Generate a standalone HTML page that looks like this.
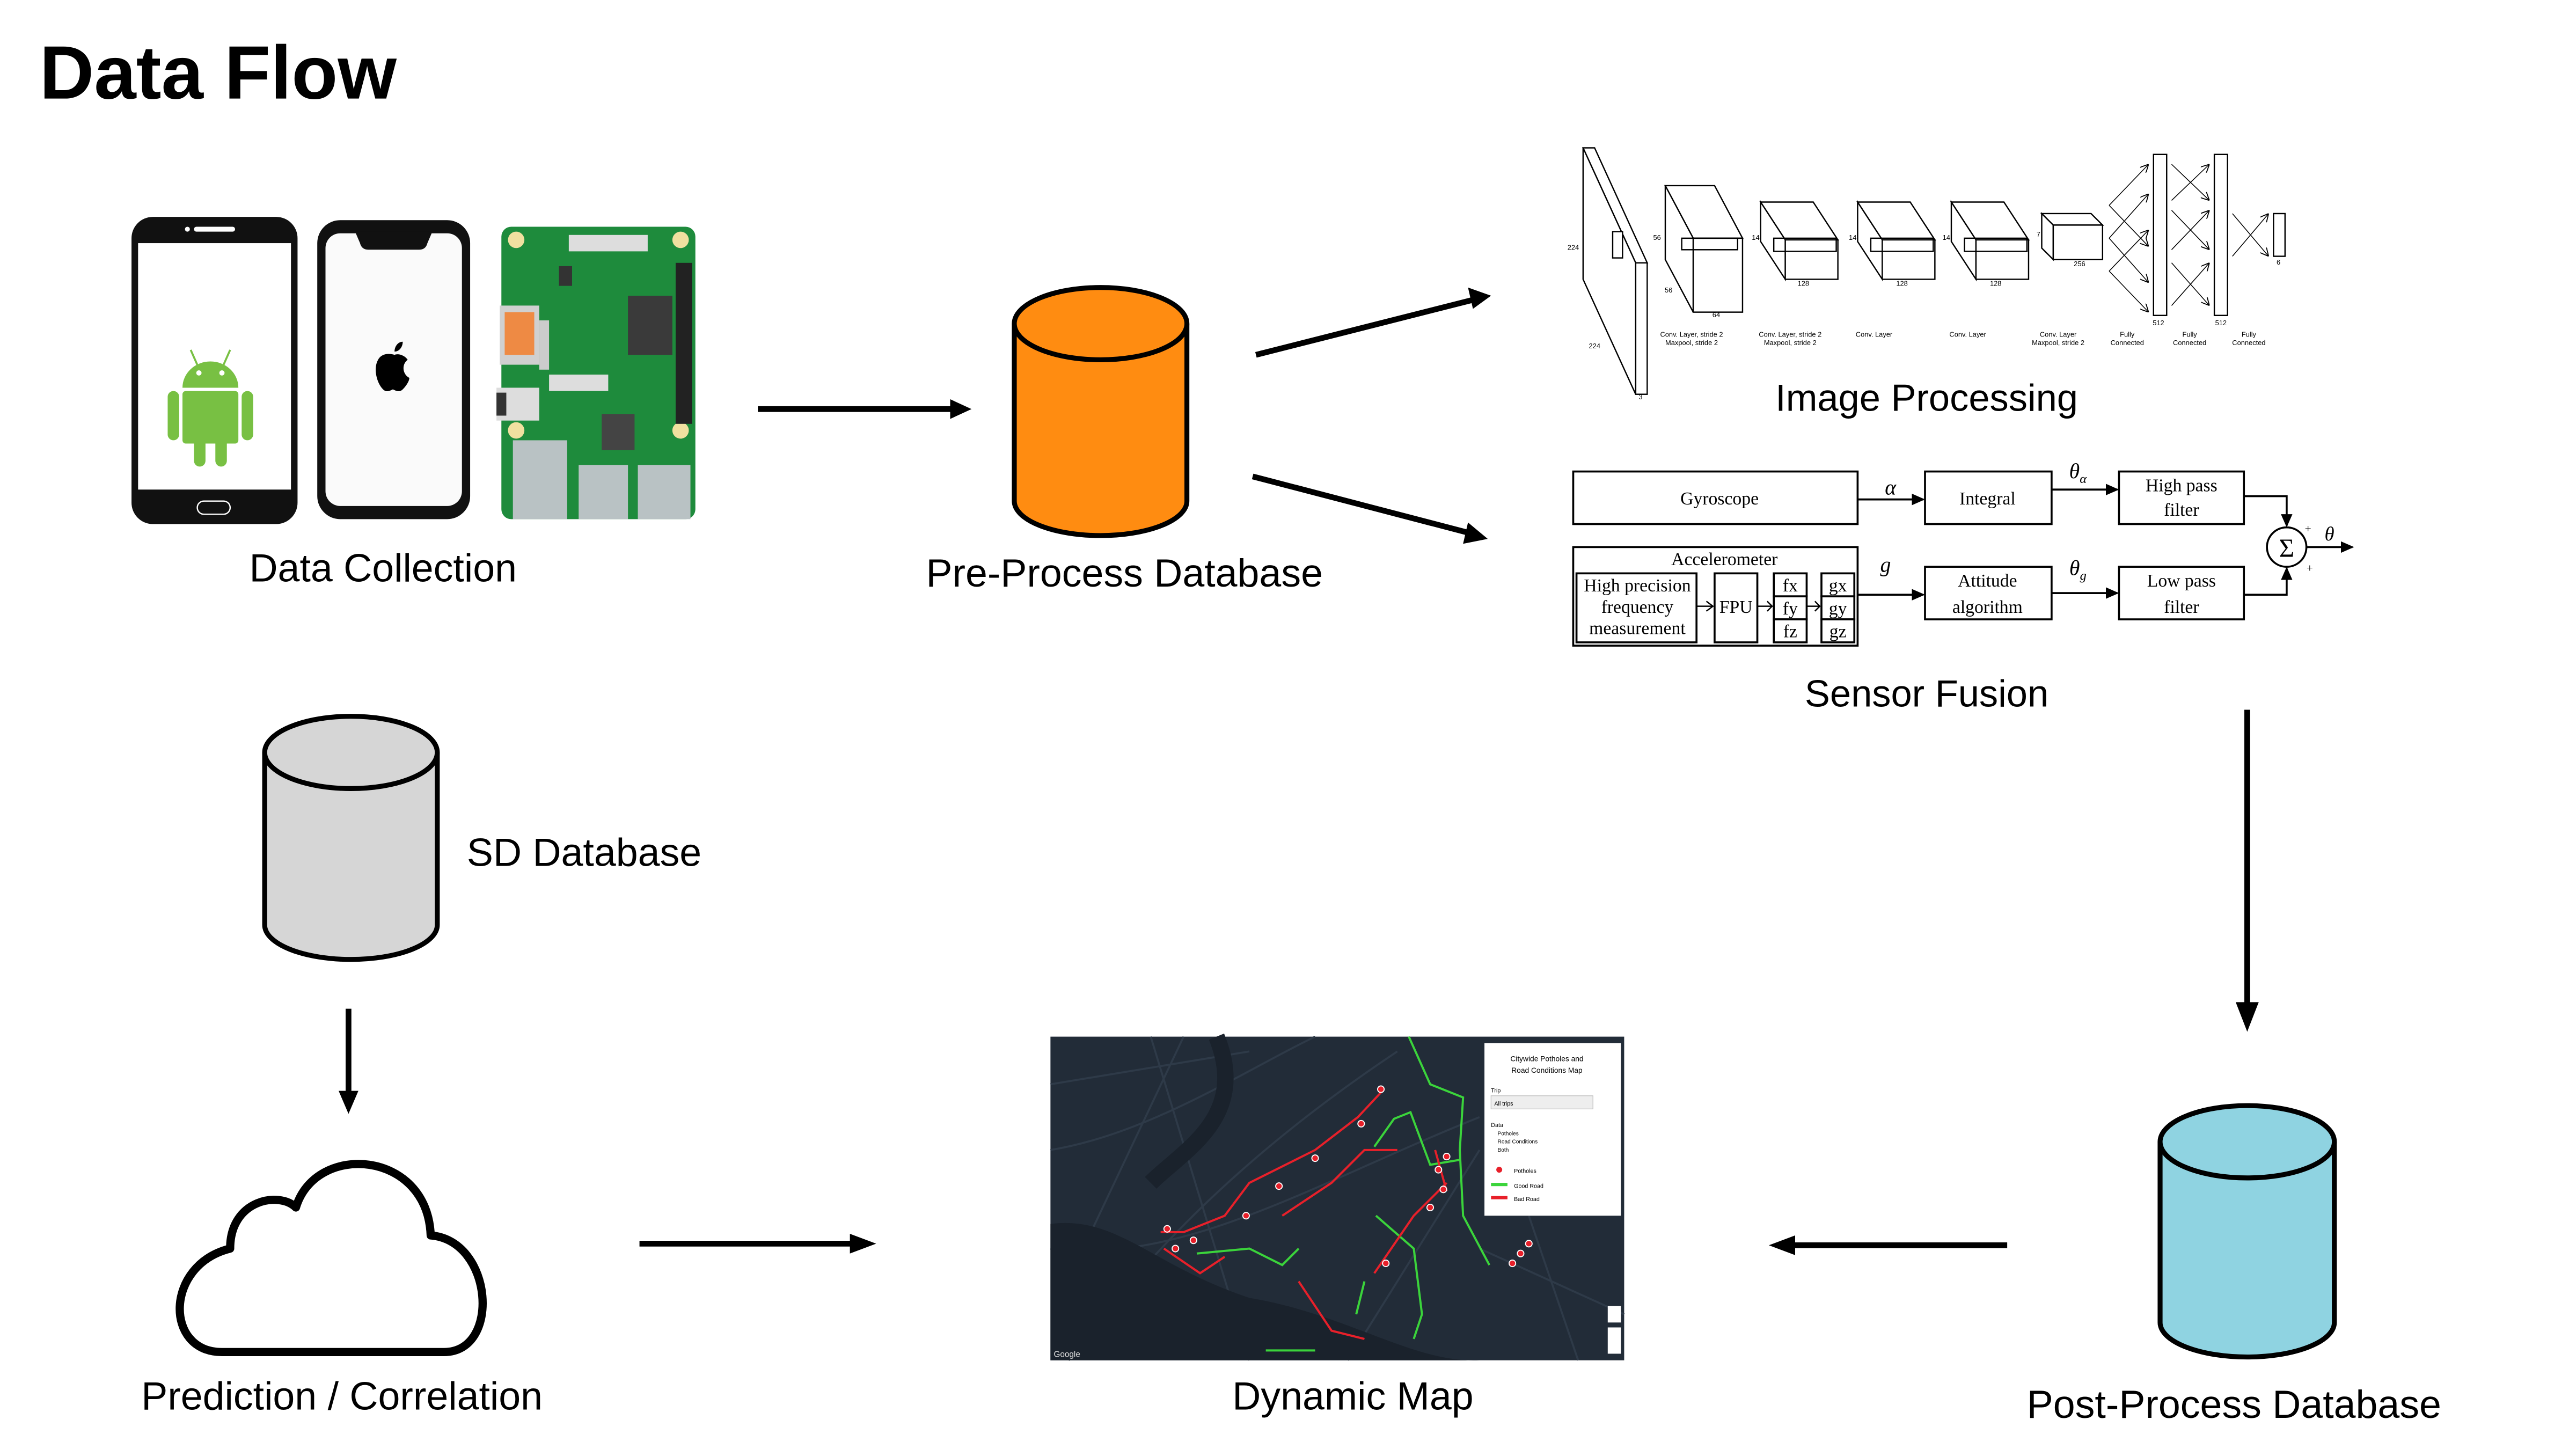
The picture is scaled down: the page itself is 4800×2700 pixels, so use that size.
<!DOCTYPE html>
<html><head><meta charset="utf-8"><style>
html,body{margin:0;padding:0;background:#fff;}
svg{display:block;}
</style></head><body>
<svg width="4800" height="2700" viewBox="0 0 1567 882" preserveAspectRatio="none" xmlns="http://www.w3.org/2000/svg" font-family="Liberation Sans, sans-serif">
<defs>
<marker id="sa" markerWidth="8" markerHeight="8" refX="7" refY="4" orient="auto" markerUnits="userSpaceOnUse"><path d="M0,0.5 L8,4 L0,7.5 z" fill="#000"/></marker>
<marker id="ta" markerWidth="5" markerHeight="5" refX="5" refY="2.5" orient="auto" markerUnits="userSpaceOnUse"><path d="M0,0 L5,2.5 L0,5" fill="none" stroke="#000" stroke-width="0.6"/></marker>
</defs>

<text x="24" y="60" font-size="46" font-weight="bold" fill="#000">Data Flow</text>

<!-- Android phone -->
<rect x="80" y="132" width="101" height="187" rx="13" fill="#111"/>
<rect x="84" y="148" width="93" height="150" fill="#fff"/>
<rect x="118" y="138" width="25" height="3" rx="1.5" fill="#fff"/>
<circle cx="114" cy="139.5" r="1.5" fill="#fff"/>
<rect x="120" y="305" width="20" height="8" rx="4" fill="none" stroke="#fff" stroke-width="0.8"/>
<path d="M111,236 A17,16 0 0 1 145,236 Z" fill="#78c043"/>
<rect x="111" y="238" width="34" height="32" rx="2" fill="#78c043"/>
<rect x="102" y="238" width="7" height="30" rx="3.5" fill="#78c043"/>
<rect x="147" y="238" width="7" height="30" rx="3.5" fill="#78c043"/>
<rect x="118" y="266" width="7" height="18" rx="3.5" fill="#78c043"/>
<rect x="131" y="266" width="7" height="18" rx="3.5" fill="#78c043"/>
<line x1="116" y1="213" x2="120" y2="222" stroke="#78c043" stroke-width="1.2"/>
<line x1="140" y1="213" x2="136" y2="222" stroke="#78c043" stroke-width="1.2"/>
<circle cx="121" cy="227" r="1.6" fill="#fff"/><circle cx="135" cy="227" r="1.6" fill="#fff"/>

<!-- iPhone -->
<rect x="193" y="134" width="93" height="182" rx="14" fill="#111"/>
<rect x="198" y="142" width="83" height="166" rx="9" fill="#fafafa"/>
<path d="M216,141 L219,148 Q220,152 224,152 L255,152 Q259,152 260,148 L263,141 Z" fill="#111"/>
<path d="M240,216 c-3,-1 -8,-1 -10,3 c-3,5 -1,14 3,18 c2,2 4,1 6,0 c2,1 4,2 6,0 c2,-2 4,-5 4,-7 c-4,-2 -5,-8 -1,-11 c-2,-3 -6,-4 -8,-3 z M240,214 c0,-3 2,-6 5,-6 c0,3 -2,6 -5,6z" fill="#000"/>

<!-- Raspberry Pi -->
<rect x="305" y="138" width="118" height="178" rx="6" fill="#1e8b3c"/>
<circle cx="314" cy="146" r="5" fill="#f0e0a0"/><circle cx="414" cy="146" r="5" fill="#f0e0a0"/>
<circle cx="314" cy="262" r="5" fill="#f0e0a0"/><circle cx="414" cy="262" r="5" fill="#f0e0a0"/>
<rect x="411" y="160" width="10" height="98" fill="#222"/>
<rect x="346" y="143" width="48" height="10" fill="#ddd"/>
<rect x="382" y="180" width="27" height="36" fill="#3a3a3a"/>
<rect x="304" y="186" width="24" height="36" fill="#d0d0d0"/>
<rect x="307" y="190" width="18" height="26" fill="#ee8a44"/>
<rect x="334" y="228" width="36" height="10" fill="#ddd"/>
<rect x="302" y="236" width="26" height="20" fill="#ddd"/>
<rect x="302" y="239" width="6" height="14" fill="#333"/>
<rect x="366" y="252" width="20" height="22" fill="#444"/>
<rect x="312" y="268" width="33" height="48" fill="#b9c2c4"/>
<rect x="352" y="283" width="30" height="33" fill="#b9c2c4"/>
<rect x="388" y="283" width="32" height="33" fill="#b9c2c4"/>
<rect x="340" y="162" width="8" height="12" fill="#333"/><rect x="328" y="195" width="6" height="30" fill="#ccc"/>

<text x="233" y="354" font-size="24" text-anchor="middle" fill="#000">Data Collection</text>

<line x1="461" y1="249" x2="582" y2="249" stroke="#000" stroke-width="3.5"/>
<path d="M578,243 L591,249 L578,255 Z" fill="#000"/>

<path d="M617,197 L617,305 A52.5,21 0 0 0 722,305 L722,197" fill="#ff8c11" stroke="#000" stroke-width="3"/>
<ellipse cx="669.5" cy="197" rx="52.5" ry="22" fill="#ff8c11" stroke="#000" stroke-width="3"/>
<text x="684" y="357" font-size="24" text-anchor="middle" fill="#000">Pre-Process Database</text>

<line x1="764" y1="216" x2="898" y2="182" stroke="#000" stroke-width="3.5"/>
<path d="M893,175 L907,180 L896,188 Z" fill="#000"/>
<line x1="762" y1="290" x2="896" y2="325" stroke="#000" stroke-width="3.5"/>
<path d="M893,318 L905,328 L890,331 Z" fill="#000"/>

<!-- CNN diagram -->
<g fill="#fff" stroke="#000" stroke-width="0.8">
<polygon points="963,90 970,90 1002,160 995,160"/>
<polygon points="963,90 995,160 995,240 963,170"/>
<rect x="995" y="160" width="7" height="80"/>
<rect x="981" y="141" width="6" height="16"/>
<polygon points="1013,113 1043,113 1060,145 1030,145"/>
<polygon points="1013,113 1030,145 1030,190 1013,158"/>
<rect x="1030" y="145" width="30" height="45"/>
<rect x="1023" y="145" width="34" height="7" fill="none"/>
<polygon points="1071,123 1103,123 1118,146 1086,146"/>
<polygon points="1071,123 1086,146 1086,170 1071,147"/>
<rect x="1086" y="146" width="32" height="24"/>
<rect x="1079" y="145" width="38" height="8" fill="none"/>
<polygon points="1130,123 1162,123 1177,146 1145,146"/>
<polygon points="1130,123 1145,146 1145,170 1130,147"/>
<rect x="1145" y="146" width="32" height="24"/>
<rect x="1138" y="145" width="38" height="8" fill="none"/>
<polygon points="1187,123 1219,123 1234,146 1202,146"/>
<polygon points="1187,123 1202,146 1202,170 1187,147"/>
<rect x="1202" y="146" width="32" height="24"/>
<rect x="1195" y="145" width="38" height="8" fill="none"/>
<polygon points="1242,130 1272,130 1279,137 1249,137"/>
<polygon points="1242,130 1249,137 1249,158 1242,151"/>
<rect x="1249" y="137" width="30" height="21"/>
<rect x="1310" y="94" width="8" height="98"/>
<rect x="1347" y="94" width="8" height="98"/>
<rect x="1383" y="130" width="7" height="26"/>
</g>
<g stroke="#000" stroke-width="0.5" marker-end="url(#ta)">
<line x1="1283" y1="125" x2="1307" y2="100"/><line x1="1283" y1="125" x2="1307" y2="150"/>
<line x1="1283" y1="145" x2="1307" y2="118"/><line x1="1283" y1="145" x2="1307" y2="172"/>
<line x1="1283" y1="165" x2="1307" y2="140"/><line x1="1283" y1="165" x2="1307" y2="190"/>
<line x1="1321" y1="100" x2="1344" y2="122"/><line x1="1321" y1="122" x2="1344" y2="100"/>
<line x1="1321" y1="128" x2="1344" y2="152"/><line x1="1321" y1="152" x2="1344" y2="128"/>
<line x1="1321" y1="160" x2="1344" y2="186"/><line x1="1321" y1="186" x2="1344" y2="160"/>
<line x1="1358" y1="130" x2="1380" y2="156"/><line x1="1358" y1="156" x2="1380" y2="130"/>
</g>
<g font-size="4.2" fill="#000" text-anchor="middle">
<text x="957" y="152">224</text><text x="970" y="212">224</text><text x="998" y="243">3</text>
<text x="1008" y="146">56</text><text x="1015" y="178">56</text><text x="1044" y="193">64</text>
<text x="1097" y="174">128</text><text x="1157" y="174">128</text><text x="1214" y="174">128</text><text x="1265" y="162">256</text>
<text x="1313" y="198">512</text><text x="1351" y="198">512</text><text x="1386" y="161">6</text>
<text x="1068" y="146">14</text><text x="1127" y="146">14</text><text x="1184" y="146">14</text><text x="1240" y="144">7</text>
<text x="1029" y="205">Conv. Layer, stride 2</text><text x="1029" y="210">Maxpool, stride 2</text>
<text x="1089" y="205">Conv. Layer, stride 2</text><text x="1089" y="210">Maxpool, stride 2</text>
<text x="1140" y="205">Conv. Layer</text><text x="1197" y="205">Conv. Layer</text>
<text x="1252" y="205">Conv. Layer</text><text x="1252" y="210">Maxpool, stride 2</text>
<text x="1294" y="205">Fully</text><text x="1294" y="210">Connected</text>
<text x="1332" y="205">Fully</text><text x="1332" y="210">Connected</text>
<text x="1368" y="205">Fully</text><text x="1368" y="210">Connected</text>
</g>
<text x="1172" y="250" font-size="23" text-anchor="middle" fill="#000">Image Processing</text>

<!-- Sensor fusion -->
<g fill="#fff" stroke="#000" stroke-width="1.2">
<rect x="957" y="287" width="173" height="32"/>
<rect x="1171" y="287" width="77" height="32"/>
<rect x="1289" y="287" width="76" height="32"/>
<rect x="957" y="333" width="173" height="60"/>
<rect x="959" y="349" width="73" height="42"/>
<rect x="1043" y="349" width="26" height="42"/>
<rect x="1079" y="349" width="20" height="14"/><rect x="1079" y="363" width="20" height="14"/><rect x="1079" y="377" width="20" height="14"/>
<rect x="1108" y="349" width="20" height="14"/><rect x="1108" y="363" width="20" height="14"/><rect x="1108" y="377" width="20" height="14"/>
<rect x="1171" y="345" width="77" height="32"/>
<rect x="1289" y="345" width="76" height="32"/>
<circle cx="1391" cy="333" r="12"/>
</g>
<g font-family="Liberation Serif, serif" font-size="11" fill="#000" text-anchor="middle">
<text x="1046" y="307">Gyroscope</text><text x="1209" y="307">Integral</text>
<text x="1327" y="299">High pass</text><text x="1327" y="314">filter</text>
<text x="1049" y="344">Accelerometer</text>
<text x="996" y="360">High precision</text><text x="996" y="373">frequency</text><text x="996" y="386">measurement</text>
<text x="1056" y="373">FPU</text>
<text x="1089" y="360">fx</text><text x="1089" y="374">fy</text><text x="1089" y="388">fz</text>
<text x="1118" y="360">gx</text><text x="1118" y="374">gy</text><text x="1118" y="388">gz</text>
<text x="1209" y="357">Attitude</text><text x="1209" y="373">algorithm</text>
<text x="1327" y="357">Low pass</text><text x="1327" y="373">filter</text>
<text x="1391" y="339" font-size="16">Σ</text>
<text x="1150" y="301" font-style="italic" font-size="13">α</text>
<text x="1147" y="348" font-style="italic" font-size="13">g</text>
<text x="1264" y="291" font-style="italic" font-size="13">θ<tspan font-size="8" dy="3">α</tspan></text>
<text x="1264" y="350" font-style="italic" font-size="13">θ<tspan font-size="8" dy="3">g</tspan></text>
<text x="1417" y="329" font-style="italic" font-size="12">θ</text>
<text x="1404" y="324" font-size="7">+</text><text x="1405" y="348" font-size="7">+</text>
</g>
<g stroke="#000" stroke-width="1.2" fill="none" marker-end="url(#sa)">
<line x1="1130" y1="304" x2="1170" y2="304"/>
<line x1="1248" y1="298" x2="1288" y2="298"/>
<line x1="1130" y1="362" x2="1170" y2="362"/>
<line x1="1248" y1="361" x2="1288" y2="361"/>
<polyline points="1365,302 1391,302 1391,320"/>
<polyline points="1365,362 1391,362 1391,346"/>
<line x1="1403" y1="333" x2="1431" y2="333"/>
</g>
<g stroke="#000" stroke-width="0.8" fill="none">
<path d="M1032,369 h10 M1038,366 l4,3 l-4,3"/>
<path d="M1069,369 h9 M1075,366 l3,3 l-3,3"/>
<path d="M1099,369 h8 M1104,366 l3,3 l-3,3"/>
</g>
<text x="1172" y="430" font-size="23" text-anchor="middle" fill="#000">Sensor Fusion</text>

<line x1="1367" y1="432" x2="1367" y2="614" stroke="#000" stroke-width="3.5"/>
<path d="M1360,610 L1367,628 L1374,610 Z" fill="#000"/>

<path d="M1314,695 L1314,805 A53,21 0 0 0 1420,805 L1420,695" fill="#8fd3e1" stroke="#000" stroke-width="3"/>
<ellipse cx="1367" cy="695" rx="53" ry="22" fill="#8fd3e1" stroke="#000" stroke-width="3"/>
<text x="1359" y="863" font-size="24" text-anchor="middle" fill="#000">Post-Process Database</text>

<line x1="1221" y1="758" x2="1088" y2="758" stroke="#000" stroke-width="3.5"/>
<path d="M1092,752 L1076,758 L1092,764 Z" fill="#000"/>

<!-- Map -->
<rect x="639" y="631" width="349" height="197" fill="#222c38"/>
<g stroke="#2e3a48" stroke-width="1.2" fill="none">
<path d="M639,700 C700,690 760,650 800,631"/><path d="M700,631 L760,828"/><path d="M639,760 C720,770 800,720 900,680"/>
<path d="M650,828 C700,760 760,700 850,640"/><path d="M820,828 L900,700"/><path d="M720,631 L640,800"/>
<path d="M639,660 L760,640"/><path d="M900,760 L988,800"/><path d="M930,740 L960,828"/>
</g>
<path d="M639,745 C680,740 700,770 760,790 C820,800 860,830 900,828 L639,828 Z" fill="#1a222c"/>
<path d="M740,631 C760,680 720,700 700,720" stroke="#1a222c" stroke-width="10" fill="none"/>
<g stroke="#3bd43b" stroke-width="1.3" fill="none">
<path d="M836,698 L848,681 L858,677 L870,709 L888,706"/>
<path d="M857,631 L870,660 L890,668 L888,700 L890,740 L906,770"/>
<path d="M837,740 L860,760 L865,800 L860,815"/>
<path d="M770,822 L800,822"/>
<path d="M728,763 L760,760 L780,770 L790,760"/>
<path d="M830,780 L825,800"/>
<path d="M905,731 L960,731 L958,700"/>
</g>
<g stroke="#e8202a" stroke-width="1.3" fill="none">
<path d="M706,750 L720,750 L745,740 L760,720 L800,700 L826,680 L840,665"/>
<path d="M780,740 L810,720 L830,700 L850,700"/>
<path d="M836,775 L860,740 L880,720"/>
<path d="M708,760 L730,775 L745,765"/>
<path d="M790,780 L810,810 L830,815"/>
<path d="M873,700 L880,725"/>
</g>
<g fill="#e8202a" stroke="#fff" stroke-width="0.6">
<circle cx="840" cy="663" r="2"/><circle cx="828" cy="684" r="2"/><circle cx="800" cy="705" r="2"/><circle cx="778" cy="722" r="2"/>
<circle cx="758" cy="740" r="2"/><circle cx="726" cy="755" r="2"/><circle cx="710" cy="748" r="2"/><circle cx="715" cy="760" r="2"/>
<circle cx="875" cy="712" r="2"/><circle cx="878" cy="724" r="2"/><circle cx="880" cy="704" r="2"/><circle cx="843" cy="769" r="2"/>
<circle cx="920" cy="769" r="2"/><circle cx="925" cy="763" r="2"/><circle cx="930" cy="757" r="2"/><circle cx="870" cy="735" r="2"/>
</g>
<rect x="903" y="635" width="83" height="105" fill="#fff"/>
<g font-size="4.5" fill="#000">
<text x="941" y="646" text-anchor="middle">Citywide Potholes and</text>
<text x="941" y="653" text-anchor="middle">Road Conditions Map</text>
<text x="907" y="665" font-size="3.5">Trip</text>
<rect x="907" y="667" width="62" height="8" fill="#eee" stroke="#bbb" stroke-width="0.4"/>
<text x="909" y="673" font-size="3.5">All trips</text>
<text x="907" y="686" font-size="3.5">Data</text>
<text x="911" y="691" font-size="3.3">Potholes</text><text x="911" y="696" font-size="3.3">Road Conditions</text><text x="911" y="701" font-size="3.3">Both</text>
<circle cx="912" cy="712" r="1.8" fill="#e8202a"/><text x="921" y="714" font-size="3.5">Potholes</text>
<rect x="907" y="720" width="10" height="2" fill="#3bd43b"/><text x="921" y="723" font-size="3.5">Good Road</text>
<rect x="907" y="728" width="10" height="2" fill="#e8202a"/><text x="921" y="731" font-size="3.5">Bad Road</text>
</g>
<text x="641" y="826" font-size="5" fill="#ddd">Google</text>
<rect x="978" y="795" width="8" height="10" fill="#fff"/><rect x="978" y="808" width="8" height="16" fill="#fff"/>
<text x="823" y="858" font-size="24" text-anchor="middle" fill="#000">Dynamic Map</text>

<line x1="389" y1="757" x2="520" y2="757" stroke="#000" stroke-width="3.5"/>
<path d="M517,751 L533,757 L517,763 Z" fill="#000"/>

<path d="M135,823 C100,823 100,770 140,760 C140,730 170,725 180,735 C192,695 260,700 262,752 C300,755 305,823 270,823 Z" fill="#fff" stroke="#000" stroke-width="5" stroke-linejoin="round"/>
<text x="208" y="858" font-size="24" text-anchor="middle" fill="#000">Prediction / Correlation</text>

<line x1="212" y1="614" x2="212" y2="667" stroke="#000" stroke-width="3.5"/>
<path d="M206,664 L212,678 L218,664 Z" fill="#000"/>

<path d="M161,458 L161,563 A52.5,21 0 0 0 266,563 L266,458" fill="#d6d6d6" stroke="#000" stroke-width="3"/>
<ellipse cx="213.5" cy="458" rx="52.5" ry="22" fill="#d6d6d6" stroke="#000" stroke-width="3"/>
<text x="284" y="527" font-size="24" fill="#000">SD Database</text>
</svg>
</body></html>
